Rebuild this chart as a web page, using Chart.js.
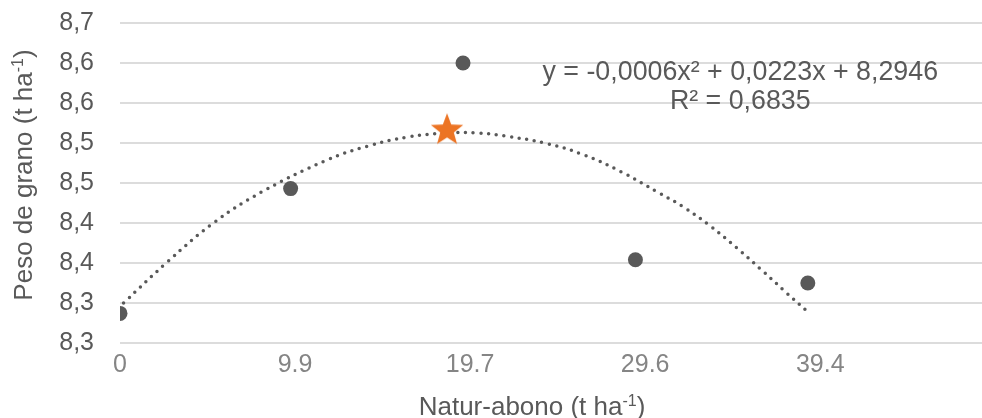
<!DOCTYPE html>
<html>
<head>
<meta charset="utf-8">
<script src="https://cdn.jsdelivr.net/npm/chart.js@4/dist/chart.umd.min.js"></script>
<style>
  html, body { margin: 0; padding: 0; background: #fff; overflow: hidden; }
  #wrap { width: 982px; height: 418px; position: relative; overflow: hidden; }
  canvas { display: block; }
</style>
</head>
<body>
<div id="wrap"><canvas id="chart"></canvas></div>
<script>
// Axis ticks
const xTickValues = [0, 9.85, 19.7, 29.55, 39.4];
const xTickLabels = ['0', '9.9', '19.7', '29.6', '39.4'];
const yTickLabels = ['8,3', '8,3', '8,4', '8,4', '8,5', '8,5', '8,6', '8,6', '8,7'];

// Observed grain weight per dose
const doseX = [0, 9.6, 19.3, 29.0, 38.7];
const grainWeight = [8.287, 8.443, 8.600, 8.354, 8.325];

// Optimum (star)
const optimumX = [18.4];
const optimumY = [8.516];

// Trend line
const trendX = [0.2, 2.65, 5.25, 8.07, 11.68, 13.93, 16.19, 18.39, 20.14, 21.6, 24.08, 26.11, 28.2, 30.34, 31.7, 33.22, 34.69, 36.21, 37.51, 38.64];
const trendY = [8.300, 8.351, 8.400, 8.440, 8.479, 8.496, 8.5075, 8.5125, 8.5125, 8.509, 8.499, 8.485, 8.464, 8.4375, 8.420, 8.396, 8.369, 8.339, 8.3125, 8.290];

const FONT = '"Liberation Sans", Arial, sans-serif';
const GREY = '#595959';

function starImage(size, color) {
    const c = document.createElement('canvas');
    c.width = size; c.height = size;
    const g = c.getContext('2d');
    const cx = size / 2, cy = size / 2, R = size / 2 - 1, r = R * 0.42;
    g.beginPath();
    for (let i = 0; i < 10; i++) {
        const rad = i % 2 === 0 ? R : r;
        const a = -Math.PI / 2 + i * Math.PI / 5;
        g.lineTo(cx + rad * Math.cos(a), cy + rad * Math.sin(a));
    }
    g.closePath();
    g.fillStyle = color;
    g.fill();
    return c;
}

// draws pieces of text, some as superscript, centred on cx
function drawRich(ctx, parts, cx, y, size) {
    const fontFor = p => (p.sup ? Math.round(size * 0.6) : size) + 'px ' + FONT;
    const widths = parts.map(p => { ctx.font = fontFor(p); return ctx.measureText(p.t).width; });
    let x = cx - widths.reduce((a, b) => a + b, 0) / 2;
    parts.forEach((p, i) => {
        ctx.font = fontFor(p);
        ctx.fillText(p.t, x, p.sup ? y - size * 0.36 : y);
        x += widths[i];
    });
}

const textPlugin = {
    id: 'textPlugin',
    afterDraw(chart) {
        const { ctx, chartArea, scales } = chart;
        ctx.save();
        ctx.fillStyle = GREY;
        ctx.textAlign = 'left';
        ctx.textBaseline = 'alphabetic';

        // equation + R²
        const ex = scales.x.getPixelForValue(34.9);
        drawRich(ctx, [{ t: 'y = -0,0006x² + 0,0223x + 8,2946' }], ex, scales.y.getPixelForValue(8.579), 26.8);
        drawRich(ctx, [{ t: 'R² = 0,6835' }], ex, scales.y.getPixelForValue(8.542), 26.8);

        // x title
        const midX = chartArea.left + (chartArea.right - chartArea.left) * 0.478;
        drawRich(ctx, [{ t: 'Natur-abono (t ha' }, { t: '-1', sup: true }, { t: ')' }], midX, 415, 26);

        // y title
        const midY = (chartArea.top + chartArea.bottom) / 2 - 8;
        ctx.translate(32, midY);
        ctx.rotate(-Math.PI / 2);
        drawRich(ctx, [{ t: 'Peso de grano (t ha' }, { t: '-1', sup: true }, { t: ')' }], 0, 0, 26);
        ctx.restore();
    }
};

new Chart(document.getElementById('chart'), {
    type: 'scatter',
    data: {
        datasets: [{
            label: 'optimo',
            data: optimumX.map((x, i) => ({ x, y: optimumY[i] })),
            pointStyle: starImage(36, '#EC7424'),
            pointRadius: 18,
            order: 0
        }, {
            label: 'peso',
            data: doseX.map((x, i) => ({ x, y: grainWeight[i] })),
            pointRadius: 7.5,
            backgroundColor: GREY,
            borderColor: GREY,
            borderWidth: 0,
            order: 1
        }, {
            type: 'line',
            label: 'tendencia',
            data: trendX.map((x, i) => ({ x, y: trendY[i] })),
            borderColor: GREY,
            borderWidth: 3.5,
            borderDash: [0, 7.7],
            borderCapStyle: 'round',
            pointRadius: 0,
            tension: 0.4,
            fill: false,
            order: 2
        }]
    },
    options: {
        responsive: true,
        maintainAspectRatio: false,
        animation: false,
        layout: { autoPadding: false, padding: { left: 0, right: 0, top: 23, bottom: 0 } },
        plugins: {
            legend: { display: false },
            tooltip: { enabled: false }
        },
        scales: {
            x: {
                type: 'linear',
                min: 0,
                max: 48.5,
                afterBuildTicks: s => { s.ticks = xTickValues.map(v => ({ value: v })); },
                afterFit: s => { s.height = 75; },
                grid: { display: false, drawTicks: false },
                border: { display: false },
                ticks: {
                    padding: 7,
                    color: '#858585',
                    font: { family: FONT, size: 25 },
                    maxRotation: 0,
                    autoSkip: false,
                    callback: (v, i) => xTickLabels[i]
                }
            },
            y: {
                min: 8.25,
                max: 8.65,
                afterFit: s => { s.width = 120; s.paddingTop = 0; s.paddingBottom = 0; },
                grid: { color: '#dcdcdc', lineWidth: 2, drawTicks: false },
                border: { display: false },
                ticks: {
                    stepSize: 0.05,
                    padding: 26,
                    color: GREY,
                    font: { family: FONT, size: 25 },
                    callback: (v, i) => yTickLabels[i]
                }
            }
        }
    },
    plugins: [textPlugin]
});
</script>
</body>
</html>
